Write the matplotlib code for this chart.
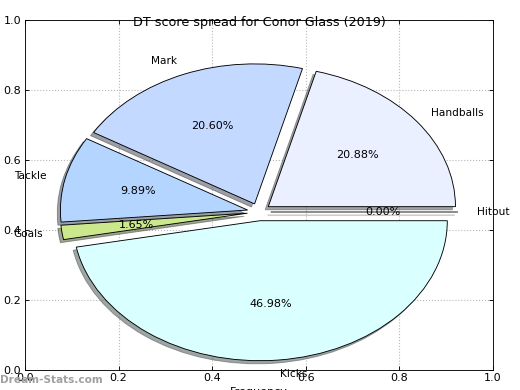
import numpy as np
import matplotlib
matplotlib.use("Agg")
import matplotlib.pyplot as plt

labels = ["Hitout", "Handballs", "Mark", "Tackle", "Goals", "Kicks"]
values = [0.00, 20.88, 20.60, 9.89, 1.65, 46.98]
colors = ["#ffffff", "#eaf0ff", "#c4d9ff", "#b3d5ff", "#cbe88c", "#d9ffff"]
title = "DT score spread for Conor Glass (2019)"
ticks = [0.0, 0.2, 0.4, 0.6, 0.8, 1.0]

fig = plt.figure(figsize=(6.5, 4.875), dpi=80)
ax = fig.add_axes([25/520, 20.5/390, 468/520, 350/390])

ax.grid(True, linestyle=":", color="#b0b0b0", linewidth=1)
ax.set_axisbelow(True)

wedges, texts, autotexts = ax.pie(
    values, labels=labels, colors=colors, explode=[0.025] * len(values),
    center=(0.5, 0.45), radius=0.4, startangle=0, autopct="%1.2f%%",
    shadow={"ox": -0.006, "oy": -0.008}, labeldistance=1.1, pctdistance=0.6,
    frame=True, wedgeprops={"edgecolor": "black", "linewidth": 0.8},
    textprops={"fontsize": 9.5},
)
for w, t in zip(wedges, texts):
    ang = np.deg2rad((w.theta1 + w.theta2) / 2)
    t.set_ha("left" if np.cos(ang) >= 0 else "right")
for t in autotexts:
    t.set_fontsize(10)

ax.set_aspect("auto")
ax.set_xlim(0, 1)
ax.set_ylim(0, 1)
ax.set_xticks(ticks)
ax.set_yticks(ticks)
ax.set_xticklabels([f"{t:.1f}" for t in ticks])
ax.set_yticklabels([f"{t:.1f}" for t in ticks])
ax.tick_params(direction="in", top=True, right=True, labelsize=10, length=4)
ax.grid(True, linestyle=":", color="#b8b8b8", linewidth=1)

ax.set_title(title, y=0.963, fontsize=11.5)
ax.set_xlabel("Frequency", fontsize=10, labelpad=3)
ax.set_ylabel("Stat Interval Rate", fontsize=9, labelpad=1)

fig.text(0.0, 0.013, "Dream-Stats.com", color="#a0a0a0", fontsize=9.5,
         fontweight="bold", ha="left", va="bottom")

fig.savefig("out.png", dpi=80)
